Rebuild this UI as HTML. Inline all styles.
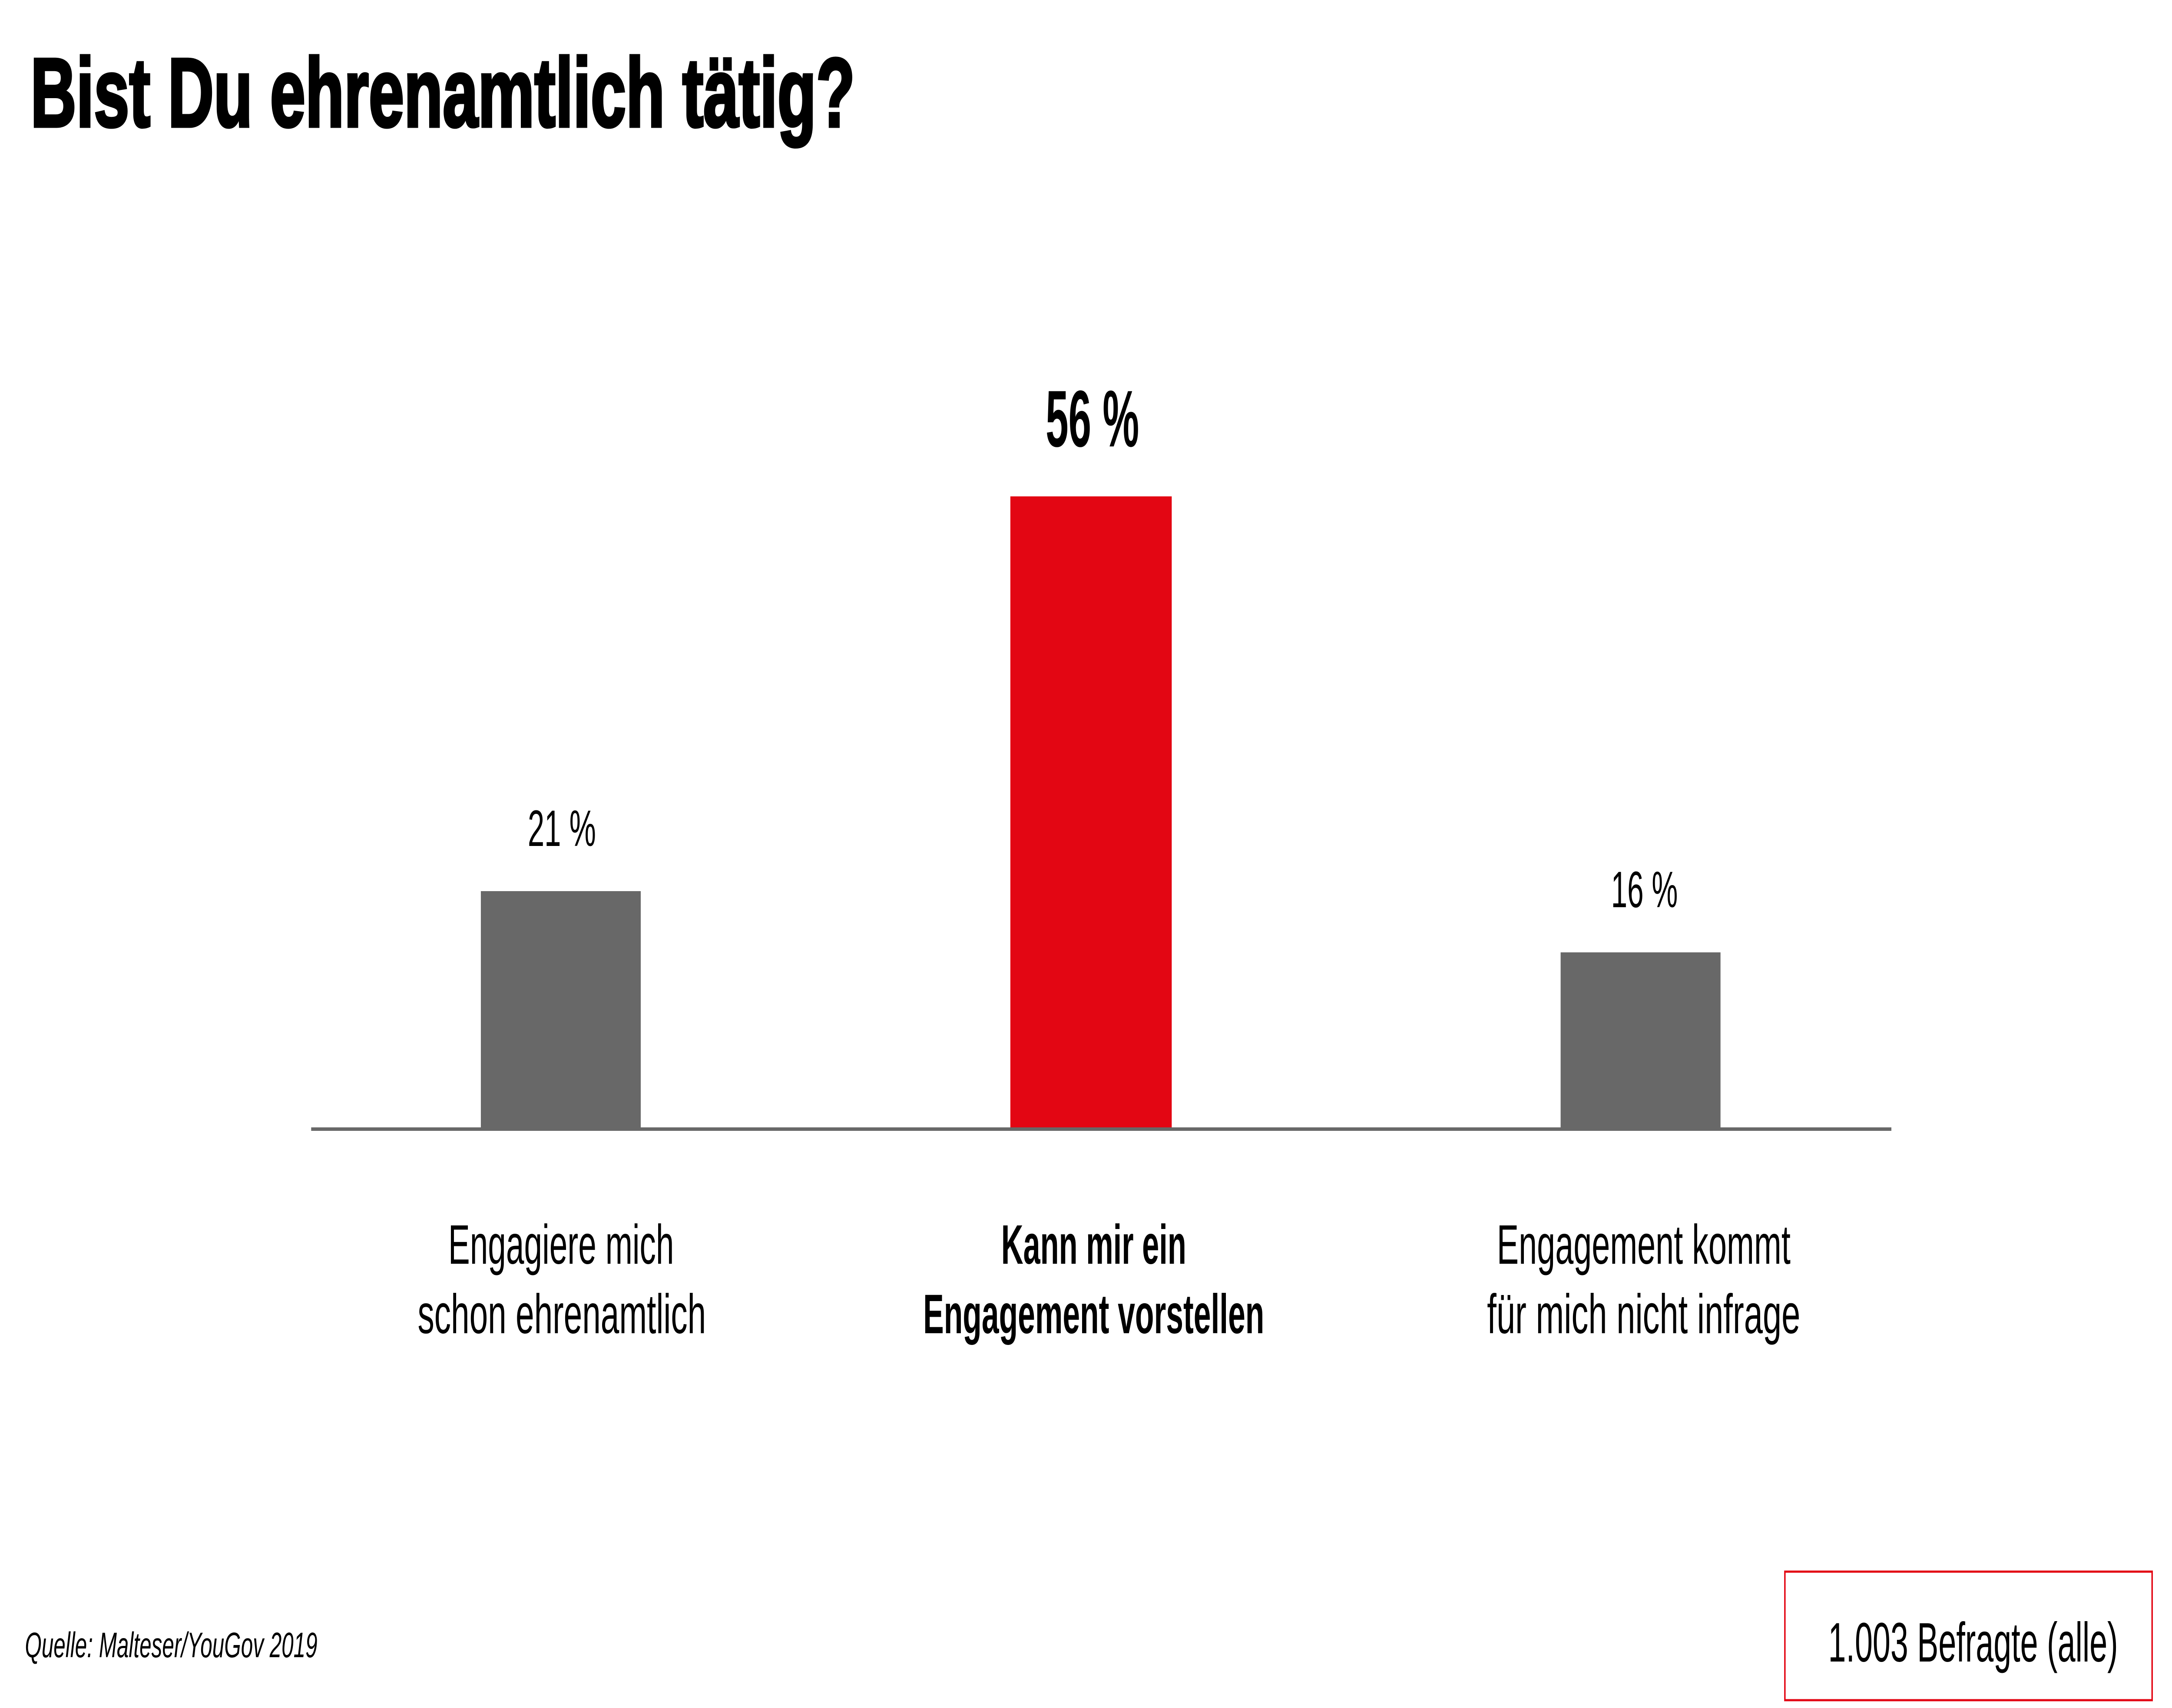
<!DOCTYPE html>
<html><head><meta charset="utf-8"><style>
html,body{margin:0;padding:0;background:#fff;width:100%;height:100%;overflow:hidden}
svg{display:block;width:100vw;height:100vh}
text{font-family:"Liberation Sans",sans-serif;fill:#000}
</style></head><body>
<svg viewBox="0 0 7322 3933" preserveAspectRatio="none" xmlns="http://www.w3.org/2000/svg">
<rect x="0" y="0" width="7322" height="3933" fill="#fff"/>
<text x="103" y="291" font-size="225" font-weight="bold" stroke="#000" stroke-width="7" textLength="2779" lengthAdjust="spacingAndGlyphs">Bist Du ehrenamtlich tätig?</text>

<rect x="1621" y="2052" width="539" height="550" fill="#686868"/>
<rect x="3406" y="1143" width="544" height="1459" fill="#e30613"/>
<rect x="5261" y="2193" width="539" height="409" fill="#686868"/>
<rect x="1049" y="2596" width="5327" height="8" fill="#686868"/>

<text x="1779" y="1948" font-size="118" textLength="230" lengthAdjust="spacingAndGlyphs">21 %</text>
<text x="3525" y="1028" font-size="185" font-weight="bold" textLength="315" lengthAdjust="spacingAndGlyphs">56 %</text>
<text x="5431" y="2089" font-size="118" textLength="225" lengthAdjust="spacingAndGlyphs">16 %</text>

<text x="1511" y="2910" font-size="128" textLength="761" lengthAdjust="spacingAndGlyphs">Engagiere mich</text>
<text x="1408" y="3070" font-size="128" textLength="972" lengthAdjust="spacingAndGlyphs">schon ehrenamtlich</text>
<text x="3375" y="2910" font-size="128" font-weight="bold" textLength="624" lengthAdjust="spacingAndGlyphs">Kann mir ein</text>
<text x="3112" y="3070" font-size="128" font-weight="bold" textLength="1150" lengthAdjust="spacingAndGlyphs">Engagement vorstellen</text>
<text x="5046" y="2910" font-size="128" textLength="990" lengthAdjust="spacingAndGlyphs">Engagement kommt</text>
<text x="5013" y="3070" font-size="128" textLength="1056" lengthAdjust="spacingAndGlyphs">für mich nicht infrage</text>

<text x="84" y="3816" font-size="82" font-style="italic" textLength="986" lengthAdjust="spacingAndGlyphs">Quelle: Malteser/YouGov 2019</text>

<rect x="6017" y="3619" width="1238" height="296" fill="none" stroke="#e30613" stroke-width="5"/>
<text x="6163" y="3826" font-size="128" textLength="977" lengthAdjust="spacingAndGlyphs">1.003 Befragte (alle)</text>
</svg>
</body></html>
